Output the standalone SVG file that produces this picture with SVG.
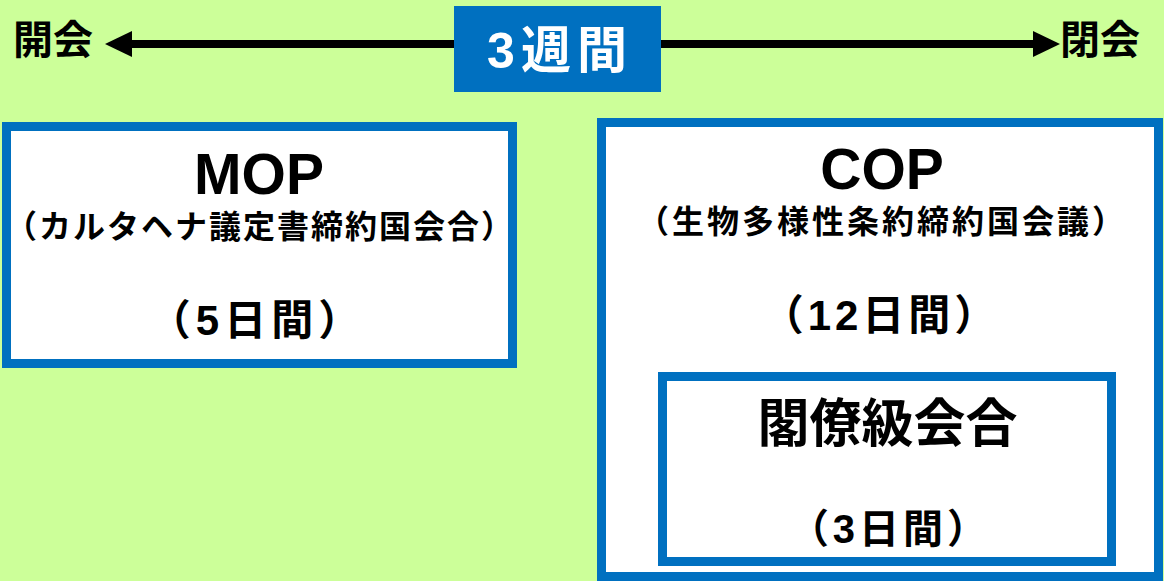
<svg xmlns="http://www.w3.org/2000/svg" width="1164" height="581" viewBox="0 0 1164 581">
  <defs>
    <marker id="ah" markerUnits="userSpaceOnUse" viewBox="0 0 27 26" markerWidth="27" markerHeight="26" refX="0" refY="13" orient="auto">
      <path d="M0,0 L27,13 L0,26 z" fill="#000"/>
    </marker>
    <style>
      .box { fill: #FFFFFF; stroke: #0070C0; stroke-width: 9; }
      .jp { font-family: "Liberation Sans", "Noto Sans CJK JP", sans-serif; font-weight: bold; fill: #000; text-anchor: middle; }
      .lat { font-family: "Liberation Sans", Arial, sans-serif; font-weight: bold; fill: #000; text-anchor: middle; }
    </style>
  </defs>
  <rect x="0" y="0" width="1164" height="581" fill="#CCFF99"/>

  <g id="connectors">
    <line x1="460" y1="44" x2="132" y2="44" stroke="#000" stroke-width="8" marker-end="url(#ah)"/>
    <line x1="655" y1="44" x2="1033" y2="44" stroke="#000" stroke-width="8" marker-end="url(#ah)"/>
  </g>

  <g id="label-open">
    <text class="jp" x="53" y="54" font-size="40">開会</text>
  </g>
  <g id="label-close">
    <text class="jp" x="1100" y="54" font-size="40">閉会</text>
  </g>

  <g id="banner">
    <rect x="454" y="6" width="207" height="86" fill="#0070C0"/>
    <text class="jp" x="560" y="68" font-size="50" letter-spacing="6" style="fill:#FFFFFF">3週間</text>
  </g>

  <g id="mop">
    <rect class="box" x="6.5" y="126.5" width="506" height="237"/>
    <text class="lat" x="259" y="194" font-size="57">MOP</text>
    <text class="jp" x="260" y="238" font-size="32" letter-spacing="2">（カルタヘナ議定書締約国会合）</text>
    <text class="jp" x="257" y="335" font-size="42" letter-spacing="5">（5日間）</text>
  </g>

  <g id="cop">
    <rect class="box" x="601.5" y="122.5" width="557" height="454"/>
    <text class="lat" x="882" y="189" font-size="57">COP</text>
    <text class="jp" x="882" y="233" font-size="32" letter-spacing="3">（生物多様性条約締約国会議）</text>
    <text class="jp" x="881" y="330" font-size="42" letter-spacing="4">（12日間）</text>
  </g>

  <g id="ministerial">
    <rect class="box" x="662.5" y="376.5" width="449" height="185"/>
    <text class="jp" x="887.5" y="442" font-size="52">閣僚級会合</text>
    <text class="jp" x="890" y="543" font-size="40" letter-spacing="4">（3日間）</text>
  </g>
</svg>
